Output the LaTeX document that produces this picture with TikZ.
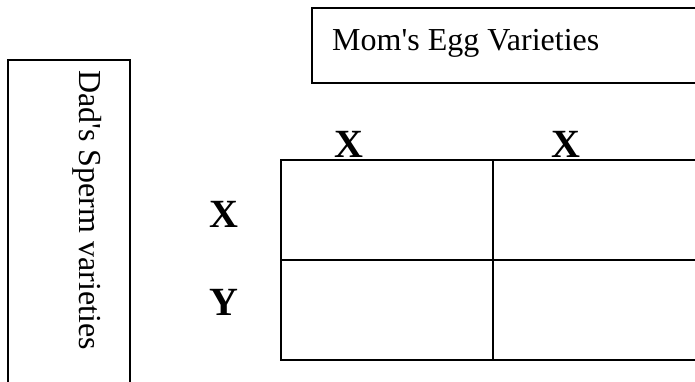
\documentclass[tikz,border=0pt]{standalone}
\usepackage{fontspec}
\newfontfamily\plainserif{Liberation Serif}
\begin{document}
\begin{tikzpicture}[x=1pt,y=-1pt,
  boxline/.style={draw=black,line width=1.6pt},
  gridline/.style={draw=black,line width=1.6pt},
  caption/.style={inner sep=0pt,font=\plainserif\fontsize{32}{38}\selectfont},
  allele/.style={inner sep=0pt,anchor=base,font=\plainserif\fontsize{40}{46}\selectfont\bfseries}]
\useasboundingbox (0,0) rectangle (695,381);
% Mom's box
\draw[boxline] (312,8) rectangle (720,83);
\node[caption,anchor=base west] (mom) at (332,50) {Mom's Egg Varieties};
% Dad's box
\draw[boxline] (8,60) rectangle (130,400);
\node[caption,anchor=base west,rotate=-90] (dad) at (79,70) {Dad's Sperm varieties};
% Punnett grid
\draw[gridline] (281,160) rectangle (705,360);
\draw[gridline] (493,160) -- (493,360);
\draw[gridline] (281,260) -- (705,260);
% allele labels
\node[allele] (e1) at (349,157) {X};
\node[allele] (e2) at (566,157) {X};
\node[allele] (s1) at (223.5,227) {X};
\node[allele] (s2) at (223.5,315) {Y};
\end{tikzpicture}
\end{document}
